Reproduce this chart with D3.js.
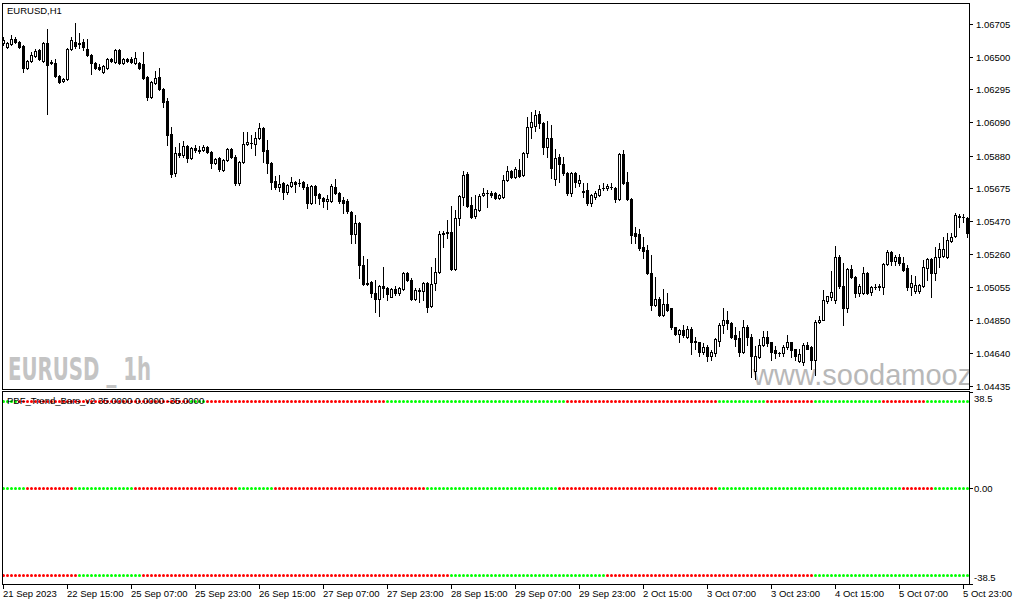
<!DOCTYPE html>
<html><head><meta charset="utf-8">
<script src="https://cdn.jsdelivr.net/npm/d3@7"></script>
<style>
html,body{margin:0;padding:0;background:#fff;}
svg{display:block;}
text{font-family:"Liberation Sans",Arial,"DejaVu Sans",sans-serif;}
</style></head><body>
<svg id="chart" width="1015" height="605"></svg>
<script>
const chartTitle = "EURUSD,H1";
const indicatorTitle = "PBF_Trend_Bars_v2 35.0000 0.0000 -35.0000";
const watermarkSymbol = "EURUSD _ 1h";
const watermarkSite = "www.soodamooz";

const timeLabels = ["21 Sep 2023","22 Sep 15:00","25 Sep 07:00","25 Sep 23:00","26 Sep 15:00","27 Sep 07:00","27 Sep 23:00","28 Sep 15:00","29 Sep 07:00","29 Sep 23:00","2 Oct 15:00","3 Oct 07:00","3 Oct 23:00","4 Oct 15:00","5 Oct 07:00","5 Oct 23:00"];
const timeLabelBars = [0,16,32,48,64,80,96,112,128,144,160,176,192,208,224,240];
const priceTicks = [1.06705,1.06500,1.06295,1.06090,1.05880,1.05675,1.05470,1.05260,1.05055,1.04850,1.04640,1.04435];
const priceDomain = [1.04435, 1.06705];

const opens = [1.06586,1.06561,1.06580,1.06611,1.06592,1.06567,1.06429,1.06473,1.06504,1.06542,1.06473,1.06586,1.06467,1.06461,1.06379,1.06348,1.06360,1.06548,1.06592,1.06580,1.06592,1.06548,1.06511,1.06461,1.06436,1.06404,1.06429,1.06486,1.06467,1.06542,1.06461,1.06486,1.06486,1.06461,1.06461,1.06454,1.06373,1.06248,1.06335,1.06373,1.06298,1.06223,1.06016,1.05772,1.05897,1.05885,1.05941,1.05866,1.05929,1.05916,1.05916,1.05935,1.05903,1.05835,1.05866,1.05791,1.05853,1.05922,1.05872,1.05709,1.05841,1.05954,1.05960,1.05954,1.05991,1.06054,1.05916,1.05835,1.05722,1.05684,1.05709,1.05653,1.05691,1.05716,1.05709,1.05716,1.05684,1.05584,1.05691,1.05641,1.05616,1.05597,1.05597,1.05684,1.05647,1.05603,1.05597,1.05528,1.05390,1.05459,1.05196,1.05083,1.05090,1.05021,1.04983,1.05065,1.05052,1.04996,1.05046,1.05021,1.05046,1.05146,1.05102,1.04983,1.05040,1.05033,1.05083,1.04939,1.05083,1.05152,1.05390,1.05403,1.05403,1.05171,1.05490,1.05622,1.05766,1.05572,1.05503,1.05540,1.05634,1.05647,1.05647,1.05647,1.05616,1.05622,1.05728,1.05785,1.05747,1.05791,1.05759,1.05897,1.06060,1.06066,1.06141,1.06085,1.05935,1.05991,1.05734,1.05872,1.05828,1.05772,1.05647,1.05772,1.05709,1.05659,1.05666,1.05584,1.05622,1.05634,1.05678,1.05678,1.05684,1.05678,1.05609,1.05891,1.05716,1.05609,1.05396,1.05390,1.05309,1.05290,1.05146,1.04946,1.04983,1.04883,1.04952,1.04921,1.04802,1.04758,1.04789,1.04745,1.04795,1.04720,1.04708,1.04651,1.04677,1.04626,1.04645,1.04720,1.04820,1.04846,1.04833,1.04752,1.04733,1.04651,1.04802,1.04745,1.04526,1.04614,1.04689,1.04745,1.04708,1.04658,1.04639,1.04645,1.04677,1.04708,1.04664,1.04589,1.04583,1.04695,1.04677,1.04601,1.04839,1.04852,1.04971,1.04996,1.04977,1.05246,1.05065,1.04927,1.05171,1.05121,1.05021,1.05021,1.05146,1.05027,1.05058,1.05058,1.05058,1.05202,1.05277,1.05221,1.05246,1.05209,1.05177,1.05058,1.05033,1.05033,1.05065,1.05177,1.05234,1.05146,1.05246,1.05252,1.05246,1.05346,1.05378,1.05503,1.05497,1.05490];
const highs = [1.06623,1.06592,1.06636,1.06623,1.06598,1.06573,1.06479,1.06529,1.06548,1.06548,1.06592,1.06673,1.06479,1.06486,1.06385,1.06367,1.06555,1.06623,1.06711,1.06648,1.06611,1.06611,1.06517,1.06467,1.06454,1.06448,1.06492,1.06492,1.06548,1.06548,1.06492,1.06492,1.06498,1.06529,1.06467,1.06529,1.06379,1.06348,1.06411,1.06429,1.06304,1.06242,1.06060,1.05935,1.05960,1.05972,1.05947,1.05935,1.05947,1.05941,1.05947,1.05941,1.05910,1.05866,1.05872,1.05860,1.05929,1.05929,1.05885,1.05847,1.06029,1.06029,1.06010,1.06029,1.06085,1.06060,1.05979,1.05841,1.05753,1.05759,1.05716,1.05703,1.05747,1.05722,1.05734,1.05722,1.05703,1.05697,1.05697,1.05647,1.05622,1.05634,1.05703,1.05734,1.05653,1.05622,1.05609,1.05534,1.05509,1.05465,1.05252,1.05234,1.05096,1.05102,1.05071,1.05184,1.05058,1.05052,1.05065,1.05058,1.05152,1.05152,1.05115,1.05052,1.05052,1.05090,1.05090,1.05184,1.05240,1.05409,1.05409,1.05478,1.05565,1.05540,1.05634,1.05785,1.05778,1.05622,1.05634,1.05641,1.05678,1.05666,1.05659,1.05653,1.05641,1.05759,1.05816,1.05791,1.05810,1.05860,1.05903,1.06123,1.06154,1.06166,1.06160,1.06091,1.06098,1.06072,1.05922,1.05891,1.05872,1.05778,1.05778,1.05778,1.05759,1.05709,1.05709,1.05641,1.05659,1.05697,1.05709,1.05703,1.05709,1.05684,1.05897,1.05916,1.05778,1.05616,1.05434,1.05421,1.05371,1.05321,1.05259,1.05121,1.04990,1.05046,1.05021,1.04927,1.04808,1.04795,1.04820,1.04814,1.04802,1.04745,1.04714,1.04702,1.04695,1.04658,1.04733,1.04827,1.04927,1.04908,1.04839,1.04808,1.04783,1.04852,1.04820,1.04758,1.04683,1.04727,1.04783,1.04783,1.04714,1.04683,1.04651,1.04689,1.04752,1.04714,1.04670,1.04664,1.04702,1.04714,1.04683,1.04846,1.04877,1.05040,1.05002,1.05159,1.05315,1.05259,1.05209,1.05177,1.05196,1.05127,1.05077,1.05184,1.05152,1.05065,1.05077,1.05077,1.05209,1.05290,1.05284,1.05259,1.05265,1.05246,1.05196,1.05133,1.05127,1.05077,1.05227,1.05240,1.05240,1.05309,1.05334,1.05371,1.05396,1.05396,1.05521,1.05515,1.05515,1.05497];
const lows = [1.06573,1.06555,1.06573,1.06586,1.06555,1.06404,1.06423,1.06467,1.06498,1.06479,1.06467,1.06141,1.06454,1.06373,1.06335,1.06342,1.06354,1.06542,1.06555,1.06555,1.06542,1.06504,1.06392,1.06423,1.06417,1.06398,1.06423,1.06467,1.06461,1.06454,1.06454,1.06467,1.06461,1.06454,1.06423,1.06360,1.06229,1.06242,1.06329,1.06292,1.06185,1.05947,1.05747,1.05753,1.05872,1.05872,1.05841,1.05860,1.05903,1.05897,1.05910,1.05897,1.05803,1.05828,1.05785,1.05785,1.05847,1.05866,1.05697,1.05697,1.05835,1.05947,1.05929,1.05885,1.05985,1.05841,1.05772,1.05672,1.05672,1.05659,1.05609,1.05641,1.05684,1.05653,1.05691,1.05672,1.05553,1.05578,1.05584,1.05578,1.05559,1.05547,1.05590,1.05641,1.05584,1.05522,1.05522,1.05334,1.05334,1.05115,1.05071,1.05071,1.04996,1.04896,1.04871,1.04996,1.04977,1.04990,1.05008,1.05008,1.05040,1.05096,1.04977,1.04977,1.04964,1.04977,1.04902,1.04933,1.05040,1.05146,1.05309,1.05365,1.05165,1.05165,1.05446,1.05572,1.05559,1.05490,1.05490,1.05534,1.05628,1.05559,1.05622,1.05609,1.05609,1.05616,1.05722,1.05741,1.05741,1.05747,1.05753,1.05872,1.05991,1.06035,1.06054,1.05891,1.05872,1.05741,1.05697,1.05716,1.05759,1.05634,1.05628,1.05684,1.05691,1.05622,1.05572,1.05565,1.05609,1.05628,1.05666,1.05666,1.05672,1.05590,1.05603,1.05703,1.05603,1.05334,1.05334,1.05290,1.05240,1.05140,1.04914,1.04939,1.04871,1.04877,1.04908,1.04795,1.04752,1.04714,1.04745,1.04739,1.04633,1.04664,1.04626,1.04633,1.04589,1.04601,1.04620,1.04683,1.04770,1.04795,1.04739,1.04683,1.04620,1.04645,1.04695,1.04489,1.04476,1.04608,1.04683,1.04683,1.04601,1.04608,1.04626,1.04620,1.04664,1.04614,1.04601,1.04583,1.04564,1.04664,1.04539,1.04507,1.04833,1.04846,1.04958,1.04977,1.04958,1.05052,1.04820,1.04896,1.05115,1.04996,1.05002,1.05015,1.05015,1.05008,1.05046,1.05040,1.05015,1.05196,1.05196,1.05196,1.05196,1.05159,1.05040,1.05008,1.05021,1.05021,1.05058,1.05102,1.04990,1.05102,1.05184,1.05246,1.05240,1.05340,1.05371,1.05434,1.05465,1.05371];
const closes = [1.06605,1.06586,1.06611,1.06592,1.06561,1.06429,1.06473,1.06511,1.06536,1.06486,1.06586,1.06448,1.06461,1.06379,1.06342,1.06360,1.06548,1.06605,1.06567,1.06586,1.06561,1.06511,1.06461,1.06429,1.06423,1.06442,1.06486,1.06473,1.06542,1.06461,1.06486,1.06473,1.06467,1.06492,1.06429,1.06367,1.06248,1.06342,1.06367,1.06298,1.06216,1.06010,1.05766,1.05897,1.05885,1.05941,1.05866,1.05929,1.05916,1.05910,1.05935,1.05903,1.05835,1.05860,1.05797,1.05853,1.05922,1.05872,1.05709,1.05841,1.05954,1.05966,1.05960,1.05991,1.06054,1.05910,1.05835,1.05716,1.05684,1.05703,1.05653,1.05697,1.05716,1.05703,1.05709,1.05684,1.05584,1.05691,1.05634,1.05616,1.05597,1.05609,1.05691,1.05647,1.05597,1.05584,1.05534,1.05390,1.05459,1.05196,1.05077,1.05077,1.05021,1.04983,1.05065,1.05052,1.05015,1.05046,1.05021,1.05052,1.05146,1.05102,1.04983,1.05040,1.05033,1.05083,1.04933,1.05077,1.05152,1.05390,1.05396,1.05396,1.05171,1.05490,1.05628,1.05759,1.05565,1.05497,1.05547,1.05628,1.05647,1.05647,1.05634,1.05616,1.05634,1.05728,1.05785,1.05747,1.05797,1.05753,1.05897,1.06060,1.06091,1.06135,1.06085,1.05935,1.05991,1.05803,1.05866,1.05828,1.05772,1.05647,1.05772,1.05716,1.05728,1.05653,1.05584,1.05634,1.05647,1.05672,1.05678,1.05691,1.05684,1.05609,1.05891,1.05709,1.05609,1.05384,1.05378,1.05303,1.05284,1.05146,1.04946,1.04983,1.04883,1.04952,1.04914,1.04802,1.04758,1.04789,1.04752,1.04795,1.04714,1.04708,1.04651,1.04677,1.04620,1.04651,1.04727,1.04820,1.04846,1.04833,1.04745,1.04727,1.04651,1.04802,1.04745,1.04620,1.04620,1.04689,1.04745,1.04702,1.04651,1.04645,1.04639,1.04677,1.04708,1.04658,1.04620,1.04633,1.04695,1.04670,1.04601,1.04839,1.04852,1.04977,1.05002,1.05027,1.05246,1.05065,1.04927,1.05171,1.05121,1.05021,1.05065,1.05146,1.05021,1.05058,1.05058,1.05065,1.05202,1.05277,1.05221,1.05246,1.05209,1.05165,1.05058,1.05083,1.05071,1.05071,1.05184,1.05234,1.05146,1.05246,1.05296,1.05296,1.05353,1.05371,1.05509,1.05497,1.05497,1.05396];

// indicator: [firstBar, lastBar, up(1)/down(0)] for each of the three levels
const indLevels = [35, 0, -35];
const trendFast = [[0,3,1],[4,46,0],[47,50,1],[51,95,0],[96,140,1],[141,163,0],[164,178,0],[179,190,1],[191,202,0],[203,219,1],[220,230,0],[231,241,1]];
const trendMid = [[0,5,1],[6,17,0],[18,32,1],[33,58,0],[59,67,1],[68,105,0],[106,138,1],[139,178,0],[179,224,1],[225,232,0],[233,241,1]];
const trendSlow = [[0,18,0],[19,34,1],[35,111,0],[112,150,1],[151,202,0],[203,241,1]];
const indTicks = [38.5, 0, -38.5];
const indTickLabels = ["38.5", "0.00", "-38.5"];
const upColor = "#00ff00", downColor = "#ff0000";

const svg = d3.select("#chart");
const W = 1015, H = 605;
const L = 2, R = 969, mainTop = 3, mainBot = 389, indTop = 391, indBot = 584;
const FS = 9.5;

svg.append("rect").attr("width", W).attr("height", H).attr("fill", "#fff");

const defs = svg.append("defs");
defs.append("clipPath").attr("id", "clipMain").append("rect")
  .attr("x", L + 1).attr("y", mainTop + 1).attr("width", R - L - 1).attr("height", mainBot - mainTop - 1);
defs.append("clipPath").attr("id", "clipInd").append("rect")
  .attr("x", L + 1).attr("y", indTop + 1).attr("width", R - L - 1).attr("height", indBot - indTop - 1);

const x = d3.scaleLinear().domain([0, 241]).range([3, 967]);
const y = d3.scaleLinear().domain(priceDomain).range([386, 24]);
const yi = d3.scaleLinear().domain([-38.5, 38.5]).range([indBot, indTop + 1]);

const bars = opens.map((o, i) => ({ i, o, h: highs[i], l: lows[i], c: closes[i] }));

// watermarks
const wm = svg.append("g").attr("clip-path", "url(#clipMain)");
wm.append("text").attr("x", 8).attr("y", 380).attr("font-size", 32).attr("font-weight", "bold")
  .attr("style", "font-family:'DejaVu Sans Condensed','Liberation Sans Narrow',sans-serif")
  .attr("fill", "#c4c4c4").attr("textLength", 143).attr("lengthAdjust", "spacingAndGlyphs").text(watermarkSymbol);
wm.append("text").attr("x", 753).attr("y", 385).attr("font-size", 29)
  .attr("fill", "#b8b8b8").text(watermarkSite);

// candles
const cg = svg.append("g").attr("clip-path", "url(#clipMain)").attr("shape-rendering", "crispEdges");
const px = d => Math.round(x(d.i));
cg.selectAll("rect.wick").data(bars).join("rect").attr("class", "wick")
  .attr("x", d => px(d)).attr("y", d => Math.round(y(d.h)))
  .attr("width", 1).attr("height", d => Math.round(y(d.l)) - Math.round(y(d.h)) + 1).attr("fill", "#000");
const bodyTop = d => Math.round(y(Math.max(d.o, d.c)));
const bodyBot = d => Math.round(y(Math.min(d.o, d.c)));
cg.selectAll("rect.body").data(bars).join("rect").attr("class", "body")
  .attr("x", d => px(d) - 1).attr("y", bodyTop).attr("width", 3)
  .attr("height", d => bodyBot(d) - bodyTop(d) + 1).attr("fill", "#000");
cg.selectAll("rect.hollow").data(bars.filter(d => d.c > d.o && bodyBot(d) - bodyTop(d) >= 2)).join("rect").attr("class", "hollow")
  .attr("x", d => px(d)).attr("y", d => bodyTop(d) + 1).attr("width", 1)
  .attr("height", d => bodyBot(d) - bodyTop(d) - 1).attr("fill", "#fff");

// indicator dots
const dots = [];
[trendFast, trendMid, trendSlow].forEach((segs, k) => {
  segs.forEach(([a, b, up]) => { for (let i = a; i <= b; i++) dots.push({ i, v: indLevels[k], up }); });
});
const ig = svg.append("g").attr("clip-path", "url(#clipInd)");
ig.selectAll("circle.dot").data(dots).join("circle").attr("class", "dot")
  .attr("cx", d => Math.round(x(d.i)) + 0.5).attr("cy", d => Math.round(yi(d.v)) + 0.5)
  .attr("r", 1.5).attr("fill", d => d.up ? upColor : downColor);

// frames
const fr = svg.append("g").attr("stroke", "#000").attr("stroke-width", 1).attr("shape-rendering", "crispEdges").attr("fill", "none");
fr.append("rect").attr("x", L + 0.5).attr("y", mainTop + 0.5).attr("width", R - L).attr("height", mainBot - mainTop);
fr.append("rect").attr("x", L + 0.5).attr("y", indTop + 0.5).attr("width", R - L).attr("height", indBot - indTop);

// price axis
const pa = svg.append("g");
priceTicks.forEach(t => {
  const ty = Math.round(y(t));
  pa.append("line").attr("x1", R + 1).attr("x2", R + 4).attr("y1", ty + 0.5).attr("y2", ty + 0.5).attr("stroke", "#000").attr("shape-rendering", "crispEdges");
  pa.append("text").attr("x", R + 7).attr("y", ty + 4).attr("font-size", FS).attr("fill", "#000").text(t.toFixed(5));
});
// indicator axis
indTicks.forEach((t, k) => {
  const ty = Math.round(yi(t));
  pa.append("line").attr("x1", R + 1).attr("x2", R + 4).attr("y1", ty + 0.5).attr("y2", ty + 0.5).attr("stroke", "#000").attr("shape-rendering", "crispEdges");
  const by = k === 0 ? ty + 10 : (k === 2 ? ty - 3 : ty + 4);
  pa.append("text").attr("x", R + 5).attr("y", by).attr("font-size", FS).attr("fill", "#000").text(indTickLabels[k]);
});

// time axis
const ta = svg.append("g");
timeLabelBars.forEach((b, k) => {
  const tx = Math.round(x(b));
  ta.append("line").attr("x1", tx + 0.5).attr("x2", tx + 0.5).attr("y1", indBot + 1).attr("y2", indBot + 5).attr("stroke", "#000").attr("shape-rendering", "crispEdges");
  ta.append("text").attr("x", tx).attr("y", 597).attr("font-size", FS).attr("fill", "#000").text(timeLabels[k]);
});

// titles
svg.append("text").attr("x", 7).attr("y", 14).attr("font-size", FS).attr("fill", "#000").text(chartTitle);
svg.append("text").attr("x", 7).attr("y", 404).attr("font-size", FS).attr("fill", "#000").text(indicatorTitle);
</script>
</body></html>
